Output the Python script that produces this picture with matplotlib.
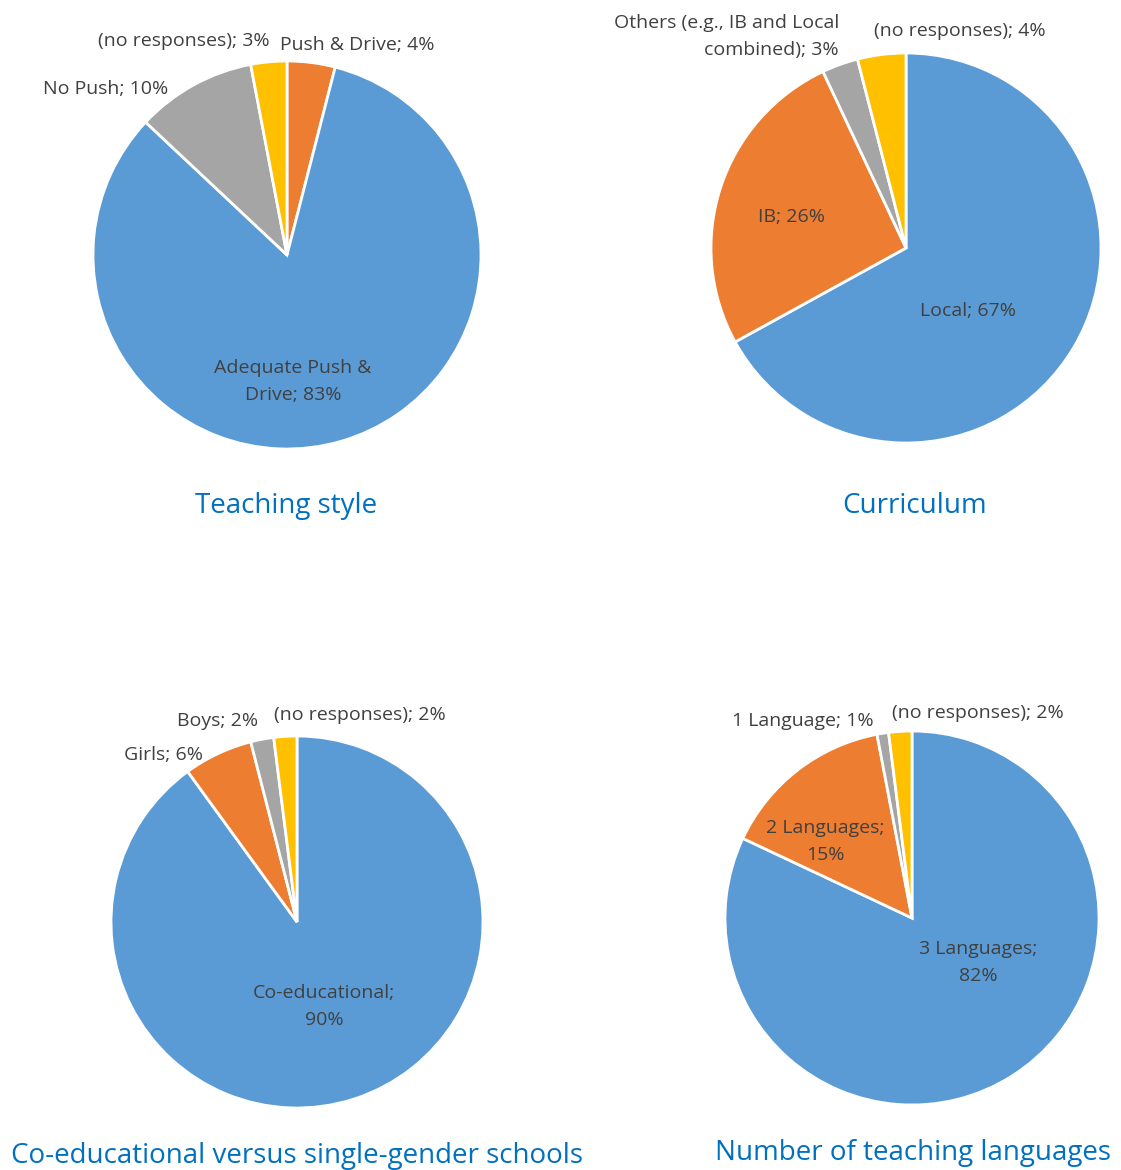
import matplotlib
matplotlib.use("Agg")
import matplotlib.pyplot as plt

# data (clockwise from 12 o'clock)
style_labels = ["Push & Drive", "Adequate Push &\nDrive", "No Push", "(no responses)"]
style_values = [4, 83, 10, 3]

curr_labels = ["Local", "IB", "Others (e.g., IB and Local\ncombined)", "(no responses)"]
curr_values = [67, 26, 3, 4]

gender_labels = ["Co-educational", "Girls", "Boys", "(no responses)"]
gender_values = [90, 6, 2, 2]

lang_labels = ["3 Languages", "2 Languages", "1 Language", "(no responses)"]
lang_values = [82, 15, 1, 2]

titles = ["Teaching style", "Curriculum",
          "Co-educational versus single-gender schools", "Number of teaching languages"]

BLUE, ORANGE, GRAY, YELLOW = "#5B9BD5", "#ED7D31", "#A5A5A5", "#FFC000"

W, H = 1121, 1170
fig = plt.figure(figsize=(W / 100, H / 100), dpi=100)
ax = fig.add_axes([0, 0, 1, 1])

# layout in pixel coords (y measured from top)
pies = [
    (style_values, [ORANGE, BLUE, GRAY, YELLOW], (287, 255), 194),
    (curr_values, [BLUE, ORANGE, GRAY, YELLOW], (906, 248), 195),
    (gender_values, [BLUE, ORANGE, GRAY, YELLOW], (297, 922), 186),
    (lang_values, [BLUE, ORANGE, GRAY, YELLOW], (912, 918), 187),
]
for vals, cols, (cx, cy), r in pies:
    ax.pie(vals, colors=cols, startangle=90, counterclock=False,
           center=(cx, H - cy), radius=r,
           wedgeprops=dict(edgecolor="white", linewidth=2))

# label placement: (x, y, ha)
label_pos = [
    [(357, 42, "center"), (293, 379, "center"), (106, 87, "center"), (184, 38, "center")],
    [(968, 308, "center"), (792, 214, "center"), (839, 34, "right"), (960, 28, "center")],
    [(324, 1004, "center"), (163, 752, "center"), (218, 718, "center"), (360, 712, "center")],
    [(978, 960, "center"), (825, 839, "center"), (803, 719, "center"), (978, 711, "center")],
]
all_labels = [style_labels, curr_labels, gender_labels, lang_labels]
all_values = [style_values, curr_values, gender_values, lang_values]
two_line = {(2, 0): "Co-educational;\n90%", (3, 0): "3 Languages;\n82%",
            (3, 1): "2 Languages;\n15%"}

dy = 2.5  # font baseline nudge
for i in range(4):
    for j in range(4):
        x, y, ha = label_pos[i][j]
        txt = two_line.get((i, j), "%s; %d%%" % (all_labels[i][j], all_values[i][j]))
        ax.text(x, H - y - dy, txt, ha=ha, va="center", fontsize=14, color="#404040",
                family="Open Sans", multialignment="right" if ha == "right" else "center",
                linespacing=1.62)

title_pos = [(286, 503), (915, 503), (297, 1153), (913, 1150)]
for t, (x, y) in zip(titles, title_pos):
    ax.text(x, H - y - 3, t, ha="center", va="center", fontsize=20, color="#0070C0",
            family="Open Sans")

ax.set_xlim(0, W)
ax.set_ylim(0, H)
ax.set_aspect("equal")
ax.axis("off")

plt.savefig("out.png", dpi=100)
